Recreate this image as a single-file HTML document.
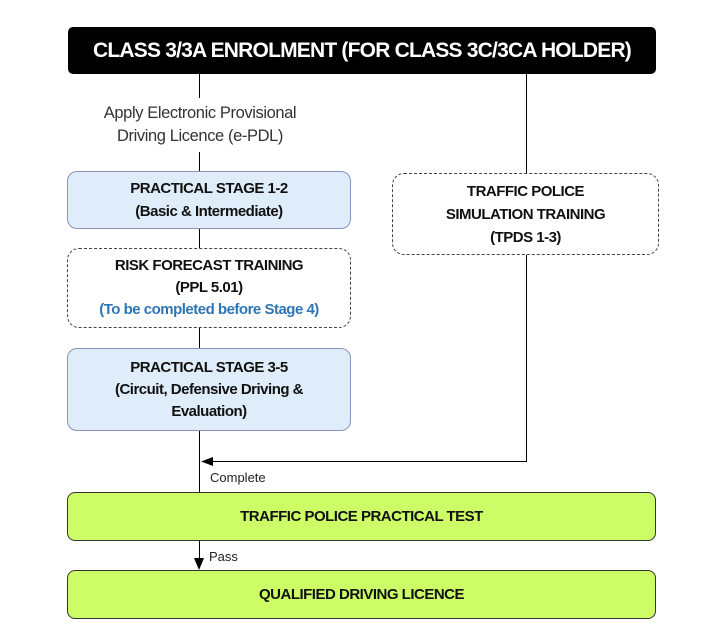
<!DOCTYPE html>
<html><head><meta charset="utf-8"><style>
body{margin:0;width:720px;height:636px;background:#fff;position:relative;overflow:hidden;font-family:"Liberation Sans",sans-serif;}
.b{position:absolute;box-sizing:border-box;display:flex;flex-direction:column;align-items:center;justify-content:center;text-align:center;font-weight:bold;font-size:15px;letter-spacing:-0.5px;line-height:22px;color:#111;}
.blue{background:#deedf9;border:1px solid #8a93b8;border-radius:10px;}
.dash{background:#fff;border:1.3px dashed #444;border-radius:12px;}
.green{background:#ccfd66;border:1.3px solid #333;border-radius:8px;}
.l{position:absolute;background:#000;}
.t{position:absolute;font-size:13px;color:#222;}
</style></head><body>
<div class="b" style="left:68px;top:27px;width:588px;height:47px;background:#000;color:#fff;border-radius:5px;font-size:21px;letter-spacing:-0.8px;">CLASS 3/3A ENROLMENT (FOR CLASS 3C/3CA HOLDER)</div>
<div class="l" style="left:199px;top:74px;width:1px;height:24px"></div>
<div class="t" style="left:80px;top:102px;width:240px;text-align:center;font-size:16.5px;line-height:23px;letter-spacing:-0.4px;color:#333">Apply Electronic Provisional<br>Driving Licence (e-PDL)</div>
<div class="l" style="left:199px;top:152px;width:1px;height:20px"></div>
<div class="l" style="left:199px;top:228px;width:1px;height:21px"></div>
<div class="l" style="left:199px;top:327px;width:1px;height:22px"></div>
<div class="l" style="left:199px;top:430px;width:1px;height:63px"></div>
<div class="l" style="left:526px;top:74px;width:1px;height:100px"></div>
<div class="l" style="left:526px;top:254px;width:1px;height:208px"></div>
<div class="l" style="left:204px;top:461px;width:323px;height:1px"></div>
<svg style="position:absolute;left:200px;top:456px" width="14" height="11"><polygon points="1,5.5 13,1 13,10" fill="#000"/></svg>
<div class="t" style="left:210px;top:470px;">Complete</div>
<div class="b blue" style="left:67px;top:171px;width:284px;height:58px;line-height:23px">PRACTICAL STAGE 1-2<br>(Basic &amp; Intermediate)</div>
<div class="b dash" style="left:67px;top:248px;width:284px;height:80px;">RISK FORECAST TRAINING<br>(PPL 5.01)<br><span style="color:#2e75b6">(To be completed before Stage 4)</span></div>
<div class="b blue" style="left:67px;top:348px;width:284px;height:83px;">PRACTICAL STAGE 3-5<br>(Circuit, Defensive Driving &amp;<br>Evaluation)</div>
<div class="b dash" style="left:392px;top:173px;width:267px;height:82px;line-height:23px">TRAFFIC POLICE<br>SIMULATION TRAINING<br>(TPDS 1-3)</div>
<div class="b green" style="left:67px;top:492px;width:589px;height:49px;">TRAFFIC POLICE PRACTICAL TEST</div>
<div class="l" style="left:199px;top:541px;width:1px;height:20px"></div>
<svg style="position:absolute;left:194px;top:558px" width="11" height="13"><polygon points="0,0 10,0 5,12" fill="#000"/></svg>
<div class="t" style="left:209px;top:549px;">Pass</div>
<div class="b green" style="left:67px;top:570px;width:589px;height:49px;">QUALIFIED DRIVING LICENCE</div>
</body></html>
